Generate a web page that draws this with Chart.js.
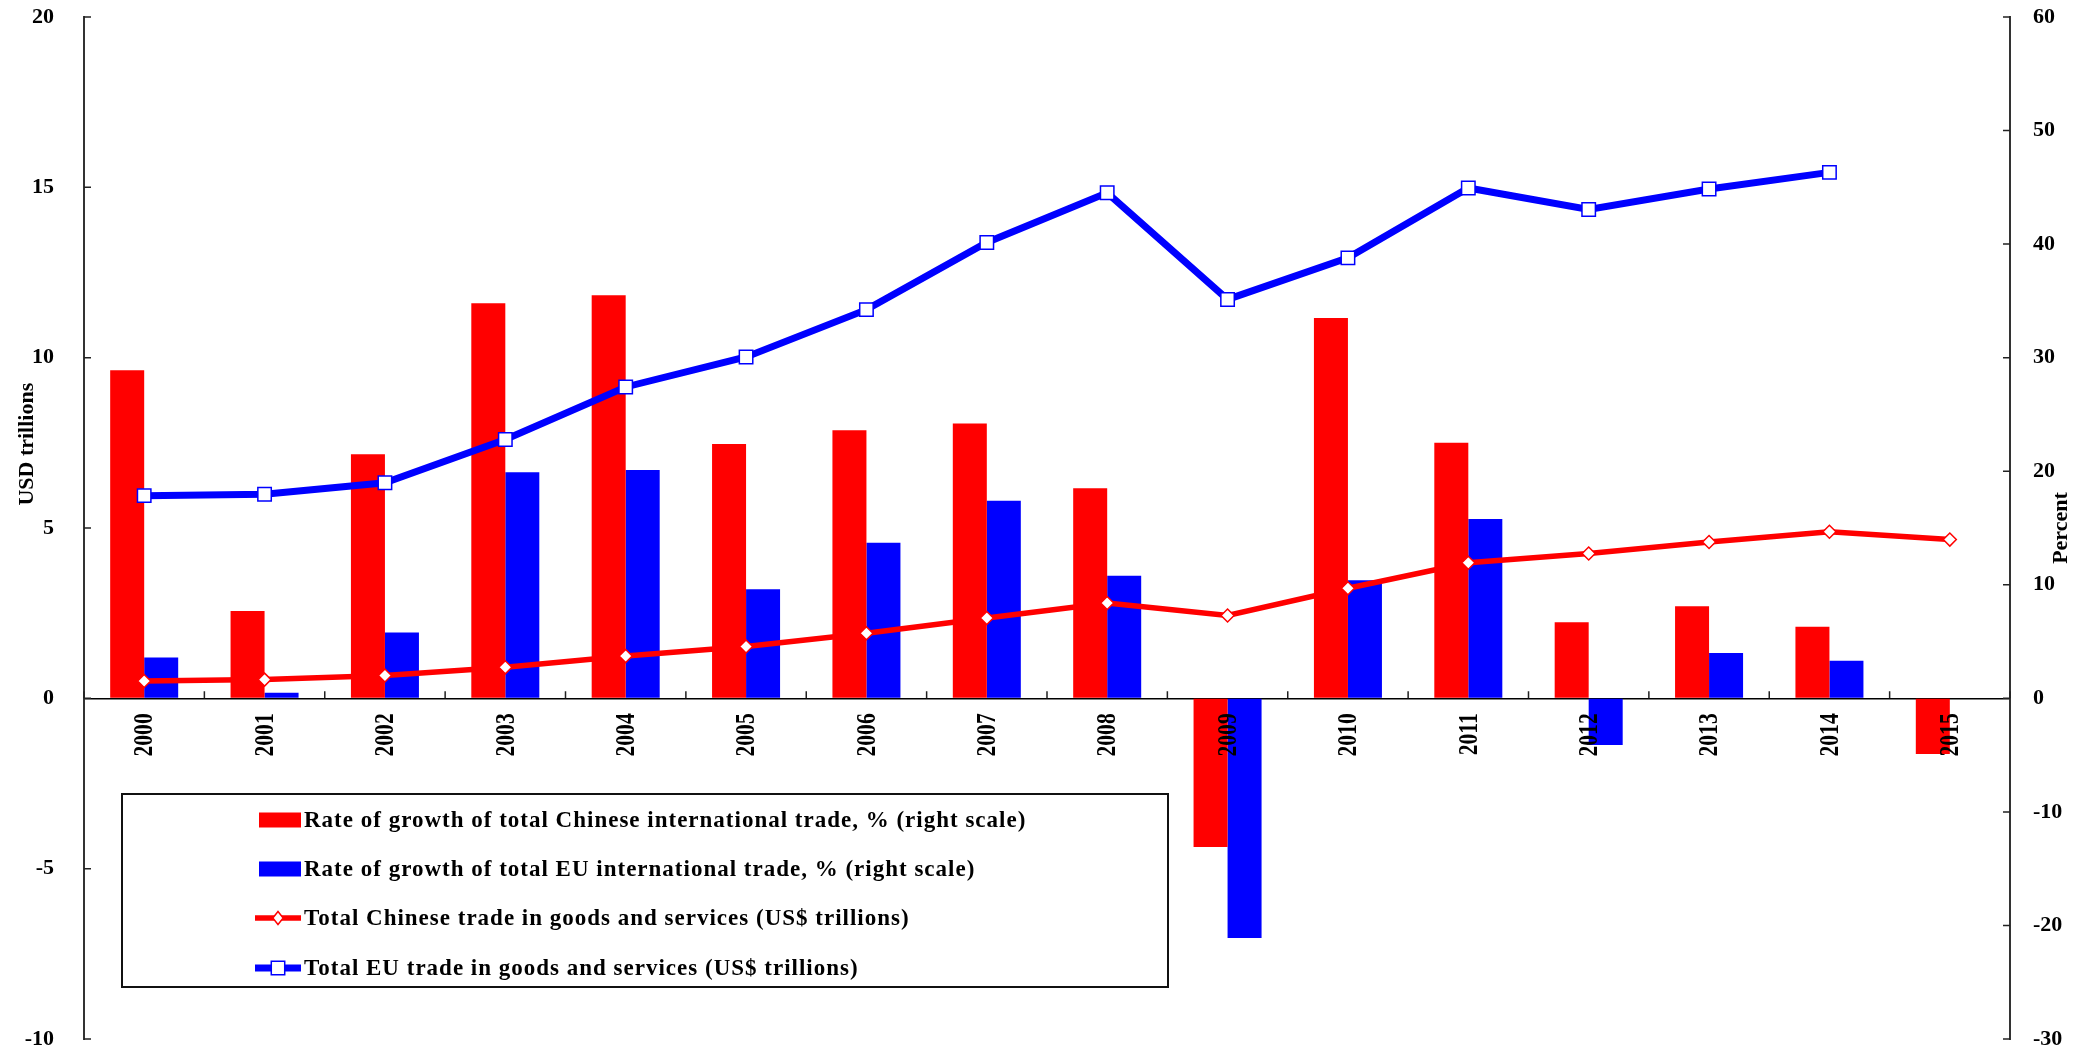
<!DOCTYPE html>
<html>
<head>
<meta charset="utf-8">
<title>Chinese and EU trade, 2000-2015</title>
<script src="https://cdn.jsdelivr.net/npm/chart.js@4.4.1/dist/chart.umd.min.js"></script>
<style>
  body { margin: 0; background: #fff; }
  .wrap { position: relative; width: 2073px; height: 1053px; }
  #legend {
    position: absolute; left: 121px; top: 793px;
    width: 1048px; height: 195px; box-sizing: border-box;
    border: 2px solid #111; background: #fff;
    display: grid; grid-template-rows: repeat(4, 49.3px);
    padding: 0 0 0 132px;
    font: bold 23px 'Liberation Serif', 'Times New Roman', serif;
    letter-spacing: 1px;
    color: #000;
  }
  #legend .row { display: flex; align-items: center; }
  #legend canvas { margin-right: 3px; }
</style>
</head>
<body>
<div class="wrap">
  <canvas id="tradeChart" width="2073" height="1053"></canvas>
  <div id="legend"></div>
</div>
<script>
const years = ['2000', '2001', '2002', '2003', '2004', '2005', '2006', '2007',
               '2008', '2009', '2010', '2011', '2012', '2013', '2014', '2015']

// growth rates, percent (right scale)
const chinaGrowth = [28.9, 7.7, 21.5, 34.8, 35.5, 22.4, 23.6, 24.2, 18.5, -13.1, 33.5, 22.5, 6.7, 8.1, 6.3, -4.9]
const euGrowth = [3.6, 0.5, 5.8, 19.9, 20.1, 9.6, 13.7, 17.4, 10.8, -21.1, 10.4, 15.8, -4.1, 4.0, 3.3, null]

// totals, USD trillions (left scale)
const chinaTrade = [0.51, 0.55, 0.67, 0.91, 1.24, 1.52, 1.91, 2.36, 2.80, 2.43, 3.23, 3.98, 4.25, 4.59, 4.89, 4.66]
const euTrade = [5.95, 5.99, 6.33, 7.60, 9.14, 10.02, 11.41, 13.38, 14.84, 11.71, 12.93, 14.98, 14.35, 14.95, 15.44, null]

const usdTicks = [-10, -5, 0, 5, 10, 15, 20]
const pctTicks = [-30, -20, -10, 0, 10, 20, 30, 40, 50, 60]

const RED = '#ff0000'
const BLUE = '#0000ff'
const SERIF = "'Liberation Serif', 'Times New Roman', serif"

// short tick marks pointing into the plot
const innerTicks = {
    id: 'innerTicks',
    afterDraw(chart) {
        const { ctx, scales: { x, y, y1 } } = chart
        const len = 7
        ctx.save()
        ctx.strokeStyle = '#222'
        ctx.lineWidth = 1.5
        ctx.beginPath()
        y.ticks.forEach((t, i) => {
            const py = y.getPixelForTick(i)
            ctx.moveTo(y.right, py)
            ctx.lineTo(y.right + len, py)
        })
        y1.ticks.forEach((t, i) => {
            const py = y1.getPixelForTick(i)
            ctx.moveTo(y1.left, py)
            ctx.lineTo(y1.left - len, py)
        })
        const zero = y.getPixelForValue(0)
        for (let i = 0; i <= years.length; i++) {
            const px = x.getPixelForValue(i - 0.5)
            ctx.moveTo(px, zero)
            ctx.lineTo(px, zero - len)
        }
        ctx.stroke()
        ctx.restore()
    }
}

// narrow upright year labels hanging under the zero line, on top of the bars
const yearLabels = {
    id: 'yearLabels',
    afterDatasetsDraw(chart) {
        const { ctx, scales: { x, y } } = chart
        const top = y.getPixelForValue(0) + 15
        ctx.save()
        ctx.font = 'bold 28px ' + SERIF
        ctx.fillStyle = '#000'
        ctx.textAlign = 'right'
        ctx.textBaseline = 'middle'
        chart.data.labels.forEach((label, i) => {
            ctx.save()
            ctx.translate(x.getPixelForTick(i), top)
            ctx.rotate(-Math.PI / 2)
            ctx.scale(0.77, 1)
            ctx.fillText(label, 0, 1)
            ctx.restore()
        })
        ctx.restore()
    }
}

// rotated axis titles
const axisTitles = {
    id: 'axisTitles',
    afterDraw(chart) {
        const { ctx, chartArea } = chart
        const drawTitle = (text, px, py) => {
            ctx.save()
            ctx.translate(px, py)
            ctx.rotate(-Math.PI / 2)
            ctx.font = 'bold 22px ' + SERIF
            ctx.fillStyle = '#000'
            ctx.textAlign = 'center'
            ctx.textBaseline = 'middle'
            ctx.fillText(text, 0, 0)
            ctx.restore()
        }
        drawTitle('USD trillions', 27, chartArea.top + chartArea.height * 0.418)
        drawTitle('Percent', 2061, chartArea.top + chartArea.height * 0.5)
    }
}

Chart.defaults.font.family = SERIF
Chart.defaults.font.weight = 'bold'
Chart.defaults.color = '#000'

const chart = new Chart(document.getElementById('tradeChart'), {
    type: 'bar',
    data: {
        labels: years,
        datasets: [
            {
                label: 'Rate of growth of total Chinese international trade, % (right scale)',
                data: chinaGrowth,
                backgroundColor: RED,
                yAxisID: 'y1',
                categoryPercentage: 0.565,
                barPercentage: 1.0,
                order: 2
            },
            {
                label: 'Rate of growth of total EU international trade, % (right scale)',
                data: euGrowth,
                backgroundColor: BLUE,
                yAxisID: 'y1',
                categoryPercentage: 0.565,
                barPercentage: 1.0,
                order: 2
            },
            {
                type: 'line',
                label: 'Total Chinese trade in goods and services (US$ trillions)',
                data: chinaTrade,
                borderColor: RED,
                borderWidth: 5.5,
                pointStyle: 'rectRot',
                pointRadius: 6.5,
                pointBackgroundColor: '#fff',
                pointBorderColor: RED,
                pointBorderWidth: 1.5,
                yAxisID: 'y',
                order: 1
            },
            {
                type: 'line',
                label: 'Total EU trade in goods and services (US$ trillions)',
                data: euTrade,
                borderColor: BLUE,
                borderWidth: 7,
                pointStyle: 'rect',
                pointRadius: 9.5,
                pointBackgroundColor: '#fff',
                pointBorderColor: BLUE,
                pointBorderWidth: 1.5,
                yAxisID: 'y',
                order: 0
            }
        ]
    },
    options: {
        responsive: false,
        animation: false,
        devicePixelRatio: 1,
        layout: { padding: { top: 17, bottom: 14, left: 0, right: 0 } },
        plugins: {
            legend: { display: false },
            tooltip: { enabled: false }
        },
        scales: {
            x: {
                position: { y: 0 },
                grid: { drawOnChartArea: false, drawTicks: false },
                border: { color: '#000', width: 1.5 },
                ticks: { display: false }
            },
            y: {
                position: 'left',
                min: usdTicks[0],
                max: usdTicks[usdTicks.length - 1],
                // invisible tick marks keep the labels clear of the axis line
                grid: { drawOnChartArea: false, tickLength: 30, tickColor: 'rgba(0,0,0,0)' },
                border: { color: '#333', width: 2 },
                ticks: {
                    stepSize: usdTicks[1] - usdTicks[0],
                    padding: 0,
                    font: { size: 22, weight: 'bold' }
                },
                afterFit(scale) { scale.width = 84 }
            },
            y1: {
                position: 'right',
                min: pctTicks[0],
                max: pctTicks[pctTicks.length - 1],
                grid: { drawOnChartArea: false, tickLength: 23, tickColor: 'rgba(0,0,0,0)' },
                border: { color: '#333', width: 2 },
                ticks: {
                    stepSize: pctTicks[1] - pctTicks[0],
                    padding: 0,
                    font: { size: 22, weight: 'bold' }
                },
                afterFit(scale) { scale.width = 63 }
            }
        }
    },
    plugins: [innerTicks, yearLabels, axisTitles]
})

// legend with bar swatches and line+marker swatches
function drawSwatch(canvas, ds) {
    const c = canvas.getContext('2d')
    const w = canvas.width, h = canvas.height
    if (ds.type !== 'line') {
        c.fillStyle = ds.backgroundColor
        c.fillRect(4, h / 2 - 7.5, w - 4, 15)
        return
    }
    c.strokeStyle = ds.borderColor
    c.lineWidth = ds.borderWidth
    c.beginPath()
    c.moveTo(0, h / 2)
    c.lineTo(w, h / 2)
    c.stroke()
    c.fillStyle = '#fff'
    c.lineWidth = 1.5
    c.beginPath()
    const cx = w / 2, cy = h / 2
    if (ds.pointStyle === 'rectRot') {
        const r = ds.pointRadius
        c.moveTo(cx, cy - r)
        c.lineTo(cx + r * 0.8, cy)
        c.lineTo(cx, cy + r)
        c.lineTo(cx - r * 0.8, cy)
        c.closePath()
    } else {
        const s = ds.pointRadius * Math.SQRT1_2
        c.rect(cx - s, cy - s, 2 * s, 2 * s)
    }
    c.fill()
    c.stroke()
}

const legendBox = document.getElementById('legend')
chart.data.datasets.forEach(ds => {
    const row = document.createElement('div')
    row.className = 'row'
    const sw = document.createElement('canvas')
    sw.width = 46
    sw.height = 22
    drawSwatch(sw, ds)
    const label = document.createElement('span')
    label.textContent = ds.label
    row.appendChild(sw)
    row.appendChild(label)
    legendBox.appendChild(row)
})
</script>
</body>
</html>
